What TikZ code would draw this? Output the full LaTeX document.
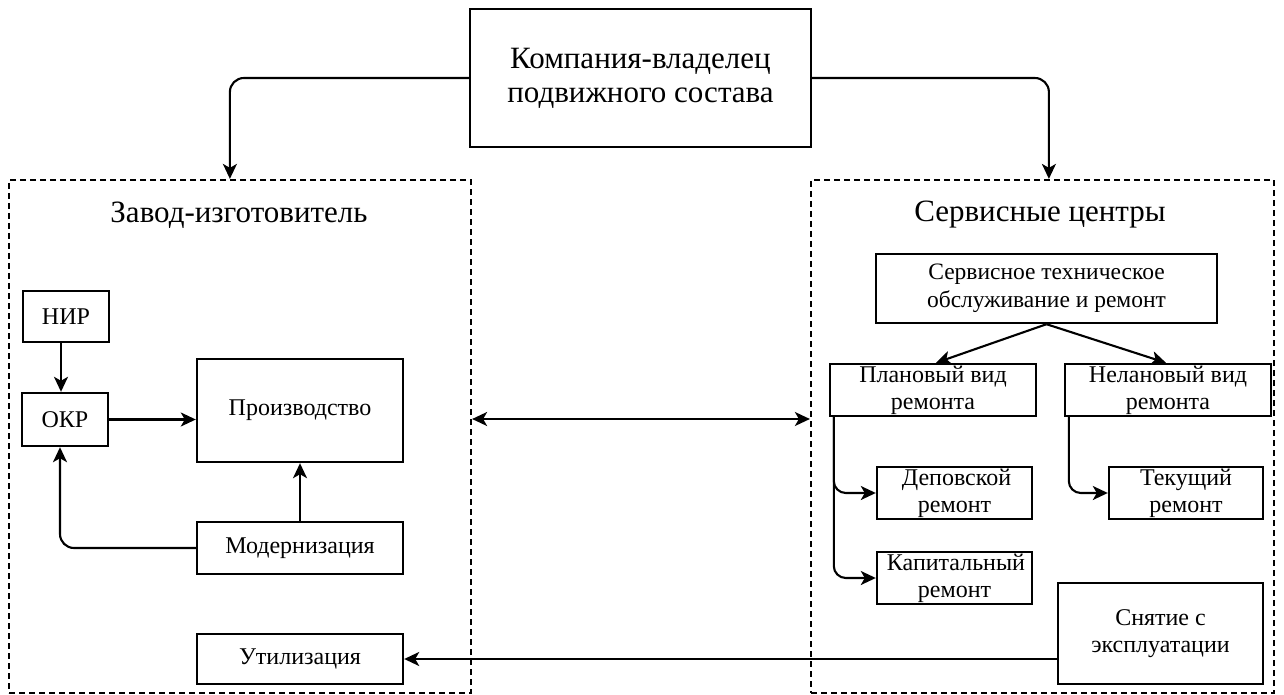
\documentclass[tikz,border=0pt]{standalone}
\usepackage{fontspec}
\setmainfont{Liberation Serif}
\usetikzlibrary{arrows.meta,positioning,calc}
\begin{document}
\begin{tikzpicture}[x=1pt,y=-1pt,
  box/.style={draw,line width=2.4pt,inner sep=0pt,align=center,font=\fontsize{24}{27}\selectfont},
  bigbox/.style={draw,line width=2.4pt,inner sep=0pt,align=center,font=\fontsize{31}{34}\selectfont},
  dbox/.style={draw,line width=2.2pt,dash pattern=on 6pt off 4pt,inner sep=0pt},
  title/.style={font=\fontsize{31}{34}\selectfont},
  tip/.style={Stealth[length=15pt,width=14pt,inset=4pt]},
  arr/.style={line width=2.1pt,-{Stealth[length=15pt,width=14pt,inset=4pt]}},
  darr/.style={line width=2.1pt,{Stealth[length=15pt,width=14pt,inset=4pt]}-{Stealth[length=15pt,width=14pt,inset=4pt]}}]
\useasboundingbox (0,0) rectangle (1284,695);
% top
\node[bigbox,minimum width=341pt,minimum height=138pt] (top) at (640.5,78) {Компания-владелец\\подвижного состава};
% dashed containers
\node[dbox,minimum width=462pt,minimum height=513pt] (ldash) at (240,436.5) {};
\node[dbox,minimum width=463pt,minimum height=513pt] (rdash) at (1042.5,436.5) {};
\node[title] (ltitle) at (239,215) {Завод-изготовитель};
\node[title] (rtitle) at (1040,215) {Сервисные центры};
% left side
\node[box,minimum width=86pt,minimum height=51pt] (nir) at (66,316.5) {НИР};
\node[box,minimum width=86pt,minimum height=53pt] (okr) at (65,419.5) {ОКР};
\node[box,minimum width=206pt,minimum height=103pt] (prod) at (300,410.5) {Производство};
\node[box,minimum width=206pt,minimum height=52pt] (mod) at (300,548) {Модернизация};
\node[box,minimum width=206pt,minimum height=50pt] (util) at (300,659) {Утилизация};
% right side
\node[box,font=\fontsize{23.5}{28}\selectfont,minimum width=341pt,minimum height=69pt] (serv) at (1046.5,288.5) {Сервисное техническое\\обслуживание и ремонт};
\node[box,minimum width=206pt,minimum height=52pt] (plan) at (933,390) {Плановый вид\\ремонта};
\node[box,minimum width=206pt,minimum height=52pt] (neplan) at (1168,390) {Нелановый вид\\ремонта};
\node[box,minimum width=155pt,minimum height=52pt] (depo) at (954.5,493) {\hspace*{4pt}Деповской\\ремонт};
\node[box,minimum width=155pt,minimum height=52pt] (kap) at (954.5,578) {\hspace*{3pt}Капитальный\\ремонт};
\node[box,minimum width=154pt,minimum height=52pt] (tek) at (1186,493) {Текущий\\ремонт};
\node[box,minimum width=205pt,minimum height=101pt] (snat) at (1160.5,633.5) {Снятие с\\эксплуатации};
% connectors
\draw[arr,rounded corners=14pt] (top.west) -| ([xshift=222pt]ldash.north west);
\draw[arr,rounded corners=14pt] (top.east) -| ([xshift=239pt]rdash.north west);
\draw[darr] ([yshift=17.5pt]ldash.east) -- ([yshift=17.5pt]rdash.west);
\draw[arr] ([xshift=-5pt]nir.south) -- ([xshift=-4pt]okr.north);
\draw[arr] (okr.east) -- (prod.west |- okr.east);
\draw[arr] (mod.north) -- (prod.south);
\draw[arr,rounded corners=14pt] (mod.west) -| ([xshift=-5pt]okr.south);
\draw[arr] (snat.west |- util.east) -- (util.east);
\draw[arr] (serv.south) -- ([xshift=3pt]plan.north);
\draw[arr] (serv.south) -- ([xshift=-2pt]neplan.north);
\draw[arr,rounded corners=12pt] ([xshift=5pt]plan.south west) |- (depo.west);
\draw[arr,rounded corners=12pt] ([xshift=5pt]plan.south west) |- (kap.west);
\draw[arr,rounded corners=12pt] ([xshift=5pt]neplan.south west) |- (tek.west);
\end{tikzpicture}
\end{document}
